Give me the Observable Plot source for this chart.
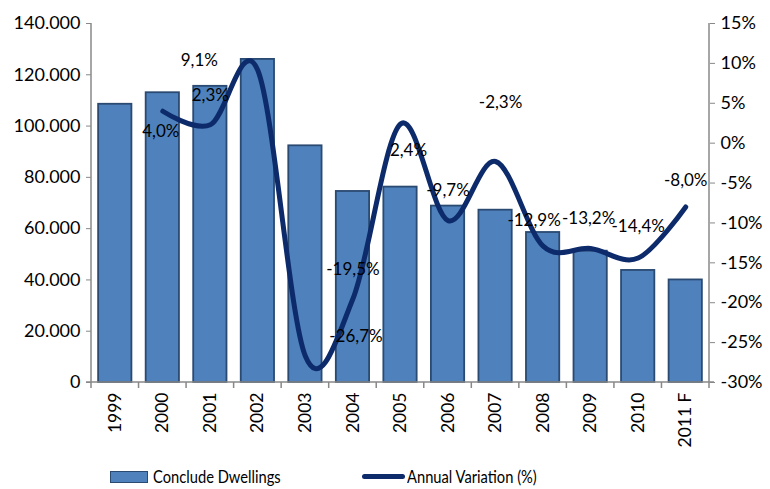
<!DOCTYPE html>
<html>
<head>
<meta charset="utf-8">
<script src="https://cdn.jsdelivr.net/npm/d3@7"></script>
<script src="https://cdn.jsdelivr.net/npm/@observablehq/plot@0.6"></script>
<style>
  html, body { margin: 0; padding: 0; background: #fff; }
  body { width: 770px; height: 489px; overflow: hidden; font-family: Lato, "Open Sans", sans-serif; }
  #legend { display: flex; align-items: center; margin-left: 110px; padding-top: 14px; font-size: 17.5px; color: #000; }
  .item { display: flex; align-items: center; }
  .txt { display: inline-block; transform: scaleX(0.84); transform-origin: left center; white-space: nowrap; }
  .sw-bar { width: 36px; height: 10px; background: #4F81BD; border: 1.5px solid #2A4A72; margin-right: 5px; }
  .sw-line { width: 43px; height: 5px; background: #0D2B6B; border-radius: 3px; margin-right: 2px; }
</style>
</head>
<body>
<div id="chart"></div>
<script>
// ---- data ----
const years = ["1999","2000","2001","2002","2003","2004","2005","2006","2007","2008","2009","2010","2011 F"];
const dwellings = [108500, 113000, 115500, 126000, 92300, 74500, 76200, 68800, 67200, 58500, 51200, 43700, 40000];
const variation = [null, 4.0, 2.3, 9.1, -26.7, -19.5, 2.4, -9.7, -2.3, -12.9, -13.2, -14.4, -8.0];
// where Excel left each data label (category and level on the % axis)
const labelYear  = [null, "2000", "2001", "2001", "2004", "2004", "2005", "2006", "2007", "2008", "2009", "2010", "2011 F"];
const labelLevel = [null, 1.5, 6.0, 10.4, -24.2, -15.8, -0.9, -5.9, 5.1, -9.7, -9.4, -10.5, -4.7];
const labelShift = [null, -2, 0, -11, 3, 0, 8, 0, 5, -9, -2, 0, 0];
const leftTicks = [0, 20000, 40000, 60000, 80000, 100000, 120000, 140000];
const rightTicks = [-30, -25, -20, -15, -10, -5, 0, 5, 10, 15];

// ---- helpers ----
const yMax = 140000, pMin = -30, pMax = 15;
const toBar = p => (p - pMin) / (pMax - pMin) * yMax;
const fromBar = v => Math.round(v / yMax * (pMax - pMin) + pMin);
const thousands = d3.formatLocale({thousands: ".", decimal: ",", grouping: [3], currency: ["", ""]}).format(",");
const pctLabel = v => v.toFixed(1).replace(".", ",") + "%";

const bars = years.map((y, i) => ({year: y, value: dwellings[i]}));
const line = years.map((y, i) => ({year: y, pct: variation[i]})).filter(d => d.pct != null);
const labels = years.map((y, i) => ({value: variation[i], at: labelYear[i], level: labelLevel[i], shift: labelShift[i]}))
  .filter(d => d.value != null);

const plot = Plot.plot({
  width: 770,
  height: 452,
  marginLeft: 91,
  marginRight: 61,
  marginTop: 23,
  marginBottom: 70,
  style: {fontFamily: "Lato, 'Open Sans', sans-serif", background: "#fff", color: "#000"},
  x: {domain: years, paddingInner: 0.3, paddingOuter: 0.15, round: false, label: null},
  y: {domain: [0, yMax], label: null},
  marks: [
    Plot.barY(bars, {x: "year", y: "value", fill: "#4F81BD", stroke: "#2A4A72", strokeWidth: 1.8}),
    Plot.line(line, {x: "year", y: d => toBar(d.pct), stroke: "#0D2B6B", strokeWidth: 5, curve: "cardinal", strokeLinecap: "round"}),
    ...labels.map(d => Plot.text([d], {x: "at", y: e => toBar(e.level), text: e => pctLabel(e.value), dx: d.shift, fontSize: 17, fill: "#000"})),
    Plot.axisX({tickSize: 0, tickPadding: 10, tickRotate: -90, fontSize: 17.5, fill: "#000", label: null}),
    Plot.axisY({anchor: "left", ticks: leftTicks, tickFormat: v => v === 0 ? "0" : thousands(v), tickSize: 5, tickPadding: 6, stroke: "#888", fill: "#000", fontSize: 18, label: null}),
    Plot.axisY({anchor: "right", ticks: rightTicks.map(toBar), tickFormat: v => fromBar(v) + "%", tickSize: 5, tickPadding: 6, stroke: "#888", fill: "#000", fontSize: 18, label: null})
  ]
});
document.getElementById("chart").appendChild(plot);

// axis lines and category boundary ticks, from the plot's own scales
const xs = plot.scale("x"), ys = plot.scale("y");
const [x0, x1] = xs.range, [yb, yt] = ys.range;
const step = (x1 - x0) / years.length;
const g = d3.select(plot).append("g").attr("stroke", "#888").attr("stroke-width", 1.5).attr("fill", "none");
g.append("line").attr("x1", x0).attr("x2", x0).attr("y1", yt).attr("y2", yb);
g.append("line").attr("x1", x1).attr("x2", x1).attr("y1", yt).attr("y2", yb);
g.append("line").attr("x1", x0 - 5).attr("x2", x1 + 5).attr("y1", yb).attr("y2", yb);
d3.range(years.length + 1).forEach(i => {
  const xx = x0 + i * step;
  g.append("line").attr("x1", xx).attr("x2", xx).attr("y1", yb).attr("y2", yb + 6);
});
// bring data line and labels to front
d3.select(plot).selectAll("g[aria-label='line']").raise();
d3.select(plot).selectAll("g[aria-label='text']").raise();
</script>
<div id="legend">
  <div class="item" style="width:252px"><span class="sw-bar"></span><span class="txt">Conclude Dwellings</span></div>
  <div class="item"><span class="sw-line"></span><span class="txt">Annual Variation (%)</span></div>
</div>
</body>
</html>
